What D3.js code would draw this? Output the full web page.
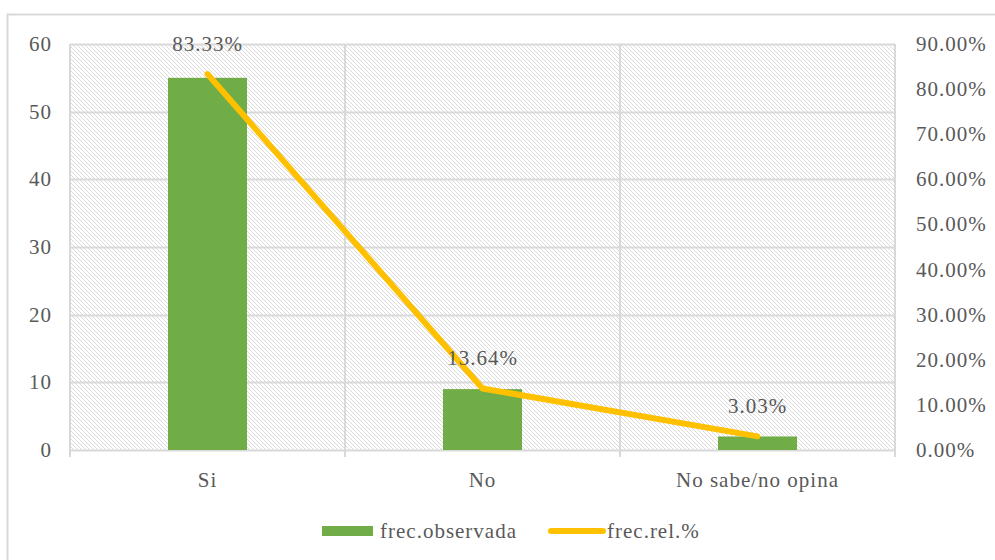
<!DOCTYPE html>
<html>
<head>
<meta charset="utf-8">
<script src="https://cdn.jsdelivr.net/npm/d3@7"></script>
<style>
  body { margin: 0; background: #fff; }
  text { font-family: "Liberation Serif", "Times New Roman", serif; fill: #595959; letter-spacing: 1px; }
</style>
</head>
<body>
<script>
const categories = ['Si', 'No', 'No sabe/no opina']
const observed = [55, 9, 2]
const relPct = [83.33, 13.64, 3.03]
const leftTicks = [0, 10, 20, 30, 40, 50, 60]
const rightTicks = [0, 10, 20, 30, 40, 50, 60, 70, 80, 90]

const width = 995
const height = 560
const plot = { left: 70, right: 895, top: 44, bottom: 450 }
const fs = 21

const svg = d3.select('body').append('svg')
  .attr('width', width)
  .attr('height', height)

const defs = svg.append('defs')
const hatch = defs.append('pattern').attr('id', 'hatch')
  .attr('patternUnits', 'userSpaceOnUse')
  .attr('width', 4).attr('height', 4)
hatch.append('rect').attr('width', 4).attr('height', 4).attr('fill', '#fff')
hatch.append('path')
  .attr('d', 'M-1,-1 L5,5 M-1,3 L1,5 M3,-1 L5,1')
  .attr('stroke', '#dadada').attr('stroke-width', 1)

// outer chart frame
svg.append('rect').attr('x', 7.5).attr('y', 14.5)
  .attr('width', width).attr('height', height)
  .attr('fill', 'none').attr('stroke', '#d9d9d9').attr('stroke-width', 2)

const x = d3.scaleBand().domain(categories).range([plot.left, plot.right])
const yLeft = d3.scaleLinear().domain([0, 60]).range([plot.bottom, plot.top])
const yRight = d3.scaleLinear().domain([0, 90]).range([plot.bottom, plot.top])

svg.append('rect')
  .attr('x', plot.left).attr('y', plot.top)
  .attr('width', plot.right - plot.left).attr('height', plot.bottom - plot.top)
  .attr('fill', 'url(#hatch)')

// horizontal grid
svg.append('g').selectAll('line').data(leftTicks).join('line')
  .attr('x1', plot.left).attr('x2', plot.right)
  .attr('y1', d => Math.round(yLeft(d)) + 0.5).attr('y2', d => Math.round(yLeft(d)) + 0.5)
  .attr('stroke', '#d9d9d9').attr('stroke-width', 2)

// vertical category boundaries
const bounds = categories.map(c => x(c)).concat([x.range()[1]])
svg.append('g').selectAll('line').data(bounds).join('line')
  .attr('x1', d => d).attr('x2', d => d)
  .attr('y1', plot.top).attr('y2', plot.bottom + 7)
  .attr('stroke', '#d9d9d9').attr('stroke-width', 2)

// left axis labels
svg.append('g').selectAll('text').data(leftTicks).join('text')
  .attr('x', 52).attr('y', d => yLeft(d) + 7)
  .attr('text-anchor', 'end').attr('font-size', fs)
  .text(d => d)

// right axis labels
svg.append('g').selectAll('text').data(rightTicks).join('text')
  .attr('x', 916).attr('y', d => yRight(d) + 7)
  .attr('font-size', fs)
  .text(d => d3.format('.2f')(d) + '%')

// category labels
svg.append('g').selectAll('text').data(categories).join('text')
  .attr('x', d => x(d) + x.bandwidth() / 2).attr('y', 487)
  .attr('text-anchor', 'middle').attr('font-size', fs)
  .text(d => d)

// bars
const barW = 79
svg.append('g').selectAll('rect').data(categories).join('rect')
  .attr('x', d => x(d) + x.bandwidth() / 2 - barW / 2)
  .attr('y', (d, i) => yLeft(observed[i]))
  .attr('width', barW)
  .attr('height', (d, i) => yLeft(0) - yLeft(observed[i]))
  .attr('fill', '#70ad47')

// line
const line = d3.line()
  .x((d, i) => x(categories[i]) + x.bandwidth() / 2)
  .y(d => yRight(d))
svg.append('path').datum(relPct)
  .attr('d', line)
  .attr('fill', 'none').attr('stroke', '#ffc000')
  .attr('stroke-width', 6).attr('stroke-linecap', 'round').attr('stroke-linejoin', 'round')

// data labels
svg.append('g').selectAll('text').data(relPct).join('text')
  .attr('x', (d, i) => x(categories[i]) + x.bandwidth() / 2)
  .attr('y', d => yRight(d) - 23)
  .attr('text-anchor', 'middle').attr('font-size', fs)
  .text(d => d3.format('.2f')(d) + '%')

// legend
const legend = svg.append('g')
legend.append('rect').attr('x', 322).attr('y', 526).attr('width', 51).attr('height', 10)
  .attr('fill', '#70ad47')
legend.append('text').attr('x', 380).attr('y', 538).attr('font-size', fs).text('frec.observada')
legend.append('line').attr('x1', 551).attr('x2', 603).attr('y1', 531).attr('y2', 531)
  .attr('stroke', '#ffc000').attr('stroke-width', 6).attr('stroke-linecap', 'round')
legend.append('text').attr('x', 607).attr('y', 538).attr('font-size', fs).text('frec.rel.%')
</script>
</body>
</html>
